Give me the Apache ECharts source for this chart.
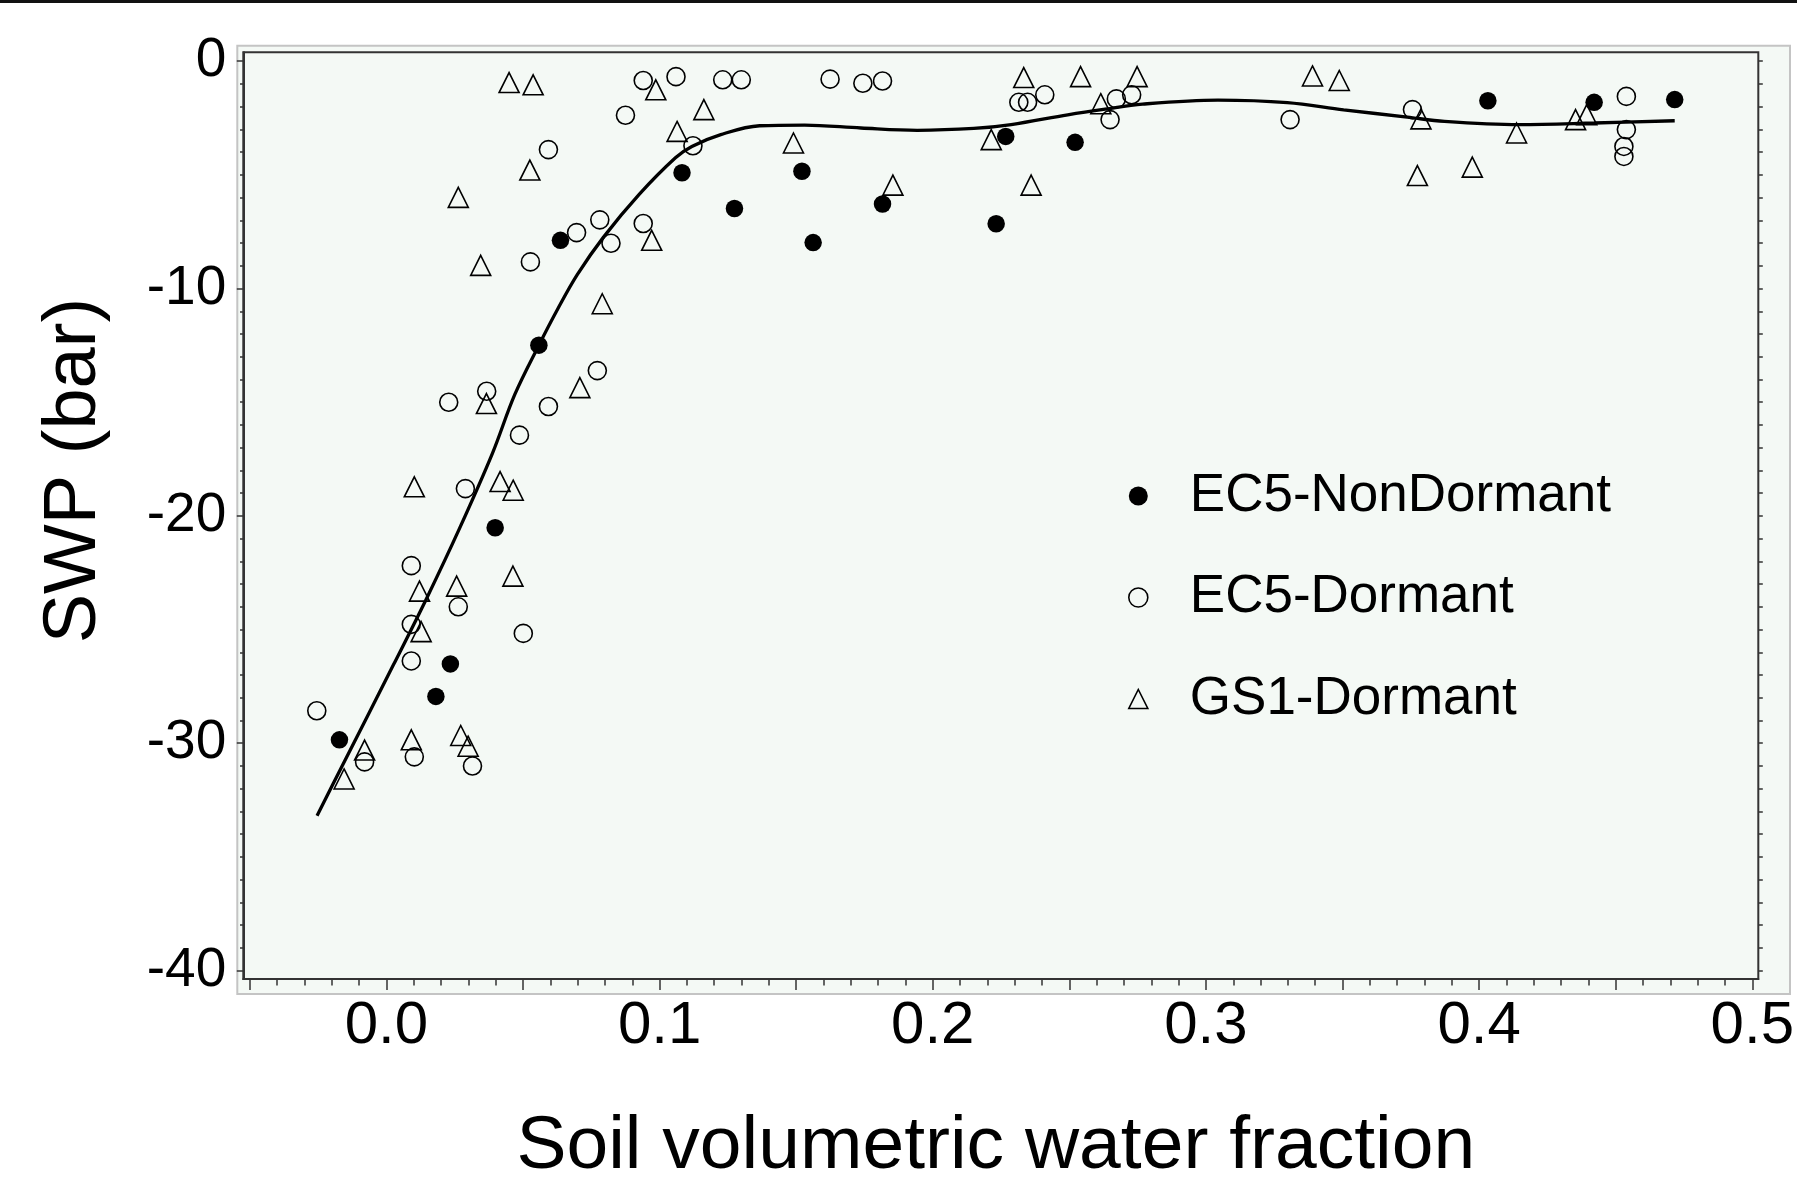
<!DOCTYPE html>
<html>

<head>
  <meta charset='utf-8'>
  <script src="https://cdn.jsdelivr.net/npm/echarts@6/dist/echarts.min.js"></script>
  <title>SWP vs soil water</title>
  <style>
    html, body { margin: 0; padding: 0; background: #fff; }
  </style>
</head>

<body>
<div id="main" style="width: 1797px;height:1190px;"></div>
<script type="text/javascript">
  // 数据 (soil volumetric water fraction, SWP bar)
  var ec5NonDormant = [
    [-0.0172, -29.85], [0.0181, -27.94], [0.0234, -26.51], [0.0398, -20.52],
    [0.0558, -12.49], [0.0637, -7.88], [0.1082, -4.91], [0.1274, -6.48],
    [0.1521, -4.84], [0.1562, -7.98], [0.1816, -6.28], [0.2232, -7.15],
    [0.2267, -3.31], [0.2521, -3.57], [0.4032, -1.74], [0.4421, -1.81],
    [0.4716, -1.69]
  ];
  var ec5Dormant = [
    [0.0940, -0.85], [0.1060, -0.68], [0.1231, -0.82], [0.0875, -2.38],
    [0.0593, -3.89], [0.1122, -3.72], [0.0781, -6.98], [0.0940, -7.14],
    [0.0696, -7.54], [0.0822, -8.01], [0.0527, -8.83], [0.0772, -13.61],
    [0.0228, -15.00], [0.0367, -14.52], [0.0593, -15.19], [0.0487, -16.45],
    [0.0289, -18.80], [0.0091, -22.19], [0.0263, -24.00], [0.0091, -24.77],
    [0.0501, -25.17], [0.0091, -26.38], [-0.0255, -28.57], [-0.0080, -30.82],
    [0.0102, -30.60], [0.0315, -31.00], [0.1624, -0.79], [0.1744, -0.97],
    [0.1816, -0.87], [0.1299, -0.82], [0.2315, -1.81], [0.2347, -1.81],
    [0.2410, -1.48], [0.2672, -1.66], [0.2728, -1.48], [0.2649, -2.57],
    [0.3308, -2.57], [0.3756, -2.13], [0.4539, -1.55], [0.4539, -3.01],
    [0.4530, -3.75], [0.4530, -4.19]
  ];
  var gs1Dormant = [
    [0.0449, -0.94], [0.0537, -1.04], [0.0986, -1.26], [0.1162, -2.13],
    [0.1064, -3.09], [0.0525, -4.79], [0.0263, -5.99], [0.0345, -8.98],
    [0.0790, -10.67], [0.0971, -7.88], [0.0708, -14.36], [0.0366, -15.06],
    [0.0102, -18.72], [0.0416, -18.49], [0.0464, -18.87], [0.0463, -22.65],
    [0.0121, -23.31], [0.0257, -23.09], [0.0127, -25.09], [0.0091, -29.85],
    [0.0272, -29.66], [0.0299, -30.13], [-0.0080, -30.30], [-0.0155, -31.57],
    [0.1490, -3.60], [0.1854, -5.45], [0.2333, -0.72], [0.2541, -0.68],
    [0.2748, -0.68], [0.2214, -3.45], [0.2360, -5.45], [0.2615, -1.87],
    [0.3390, -0.65], [0.3488, -0.85], [0.3787, -2.54], [0.3774, -5.03],
    [0.3975, -4.66], [0.4137, -3.16], [0.4353, -2.57], [0.4394, -2.35]
  ];
  // 拟合曲线
  var fitCurve = [
    [-0.0254, -33.19], [-0.0158, -30.90], [0.0027, -26.52], [0.0147, -23.63],
    [0.0268, -20.54], [0.0388, -17.25], [0.0470, -14.66], [0.0559, -12.47],
    [0.0627, -10.90], [0.0698, -9.40], [0.0794, -7.75], [0.0926, -5.85],
    [0.1058, -4.25], [0.1118, -3.75], [0.1224, -3.23], [0.1366, -2.84],
    [0.1531, -2.81], [0.1737, -2.94], [0.1943, -3.04], [0.2150, -2.96],
    [0.2287, -2.79], [0.2494, -2.36], [0.2631, -2.11], [0.2768, -1.89],
    [0.3044, -1.71], [0.3298, -1.82], [0.3504, -2.14], [0.3737, -2.46],
    [0.3873, -2.65], [0.4147, -2.79], [0.4421, -2.72], [0.4716, -2.62]
  ];

  var xLabelValues = [0, 0.1, 0.2, 0.3, 0.4, 0.5];
  var yLabelValues = [0, -10, -20, -30, -40];

  // 刻度位置
  var xMajorTicks = [], xMinorTicks = [], yMinorTicks = [];
  for (var i = -5; i <= 50; i++) {
    xMinorTicks.push(i / 100);
    if (i % 5 === 0) xMajorTicks.push(i / 100);
  }
  for (var j = 0; j >= -40; j--) yMinorTicks.push(j);

  var FONT = "'Liberation Sans', Arial, sans-serif";
  var BG = '#F4F9F5';
  var AXIS_COLOR = '#333';
  var X_MIN = -0.0524, X_MAX = 0.5022, Y_MIN = -40.37, Y_MAX = 0.39;

  var myChart = echarts.init(document.getElementById('main'));

  var openStyle = { color: 'rgba(0,0,0,0)', borderColor: '#000', borderWidth: 1.6, opacity: 1 };
  var tickLine = { color: AXIS_COLOR, width: 1.5 };

  var option = {
    animation: false,
    backgroundColor: '#fff',
    textStyle: { fontFamily: FONT },
    grid: {
      left: 243.3, right: 11, top: 52.3, bottom: 208.3,
      show: true, backgroundColor: BG, borderColor: AXIS_COLOR, borderWidth: 2
    },
    graphic: [
      { type: 'rect', z: -10, shape: { x: 0, y: 0, width: 1797, height: 3 }, style: { fill: '#111' } },
      { type: 'rect', z: -10, shape: { x: 237.3, y: 45.7, width: 1552.7, height: 948.3 },
        style: { fill: BG, stroke: '#C4C4C4', lineWidth: 2 } }
    ],
    legend: {
      orient: 'vertical',
      left: 1123, top: 463,
      itemWidth: 19, itemHeight: 19, itemGap: 45.5,
      textStyle: { fontSize: 53, lineHeight: 56, color: '#000', fontFamily: FONT, padding: [0, 0, 0, 37] },
      data: [
        { name: 'EC5-NonDormant', icon: 'circle', itemStyle: { color: '#000', opacity: 1 } },
        { name: 'EC5-Dormant', icon: 'circle', itemStyle: openStyle },
        { name: 'GS1-Dormant', icon: 'triangle', itemStyle: openStyle }
      ]
    },
    xAxis: [{
      type: 'value', min: X_MIN, max: X_MAX, position: 'bottom',
      name: 'Soil volumetric water fraction', nameLocation: 'middle', nameGap: 131,
      nameTextStyle: { fontSize: 75, color: '#000', fontFamily: FONT, padding: [0, 10, 0, 0] },
      axisLine: { show: true, onZero: false, lineStyle: { color: AXIS_COLOR, width: 2 } },
      axisTick: { show: true, length: 11, customValues: xMajorTicks, lineStyle: tickLine },
      axisLabel: {
        customValues: xLabelValues, margin: 17, fontSize: 60, color: '#000', fontFamily: FONT,
        formatter: function (v) { return v.toFixed(1); }
      },
      splitLine: { show: false }
    }, {
      type: 'value', min: X_MIN, max: X_MAX, position: 'bottom',
      axisLine: { show: false, onZero: false },
      axisTick: { show: true, length: 6.5, customValues: xMinorTicks, lineStyle: tickLine },
      axisLabel: { show: false },
      splitLine: { show: false }
    }],
    yAxis: [{
      type: 'value', min: Y_MIN, max: Y_MAX, position: 'left',
      name: 'SWP (bar)', nameLocation: 'middle', nameGap: 132,
      nameTextStyle: { fontSize: 74, color: '#000', fontFamily: FONT, padding: [0, 0, 0, 90] },
      axisLine: { show: true, onZero: false, lineStyle: { color: AXIS_COLOR, width: 2 } },
      axisTick: { show: true, length: 6.5, customValues: yLabelValues, lineStyle: tickLine },
      axisLabel: { customValues: yLabelValues, margin: 17, fontSize: 55, color: '#000', fontFamily: FONT },
      splitLine: { show: false }
    }, {
      type: 'value', min: Y_MIN, max: Y_MAX, position: 'left',
      axisLine: { show: false, onZero: false },
      axisTick: { show: true, length: 3.3, customValues: yMinorTicks, lineStyle: tickLine },
      axisLabel: { show: false },
      splitLine: { show: false }
    }, {
      type: 'value', min: Y_MIN, max: Y_MAX, position: 'right',
      axisLine: { show: false, onZero: false },
      axisTick: { show: true, length: 4.5, customValues: yMinorTicks, lineStyle: tickLine },
      axisLabel: { show: false },
      splitLine: { show: false }
    }],
    series: [{
      name: 'fit', type: 'line', data: fitCurve,
      smooth: 0.35, showSymbol: false, symbol: 'none',
      lineStyle: { color: '#000', width: 3.3 }, z: 2, silent: true
    }, {
      name: 'EC5-NonDormant', type: 'scatter', data: ec5NonDormant,
      symbol: 'circle', symbolSize: 17.5, itemStyle: { color: '#000', opacity: 1 }, z: 3
    }, {
      name: 'EC5-Dormant', type: 'scatter', data: ec5Dormant,
      symbol: 'circle', symbolSize: 18, itemStyle: openStyle, z: 3
    }, {
      name: 'GS1-Dormant', type: 'scatter', data: gs1Dormant,
      symbol: 'triangle', symbolSize: 20, itemStyle: openStyle, z: 3
    }]
  };

  myChart.setOption(option);
</script>
</body>

</html>
